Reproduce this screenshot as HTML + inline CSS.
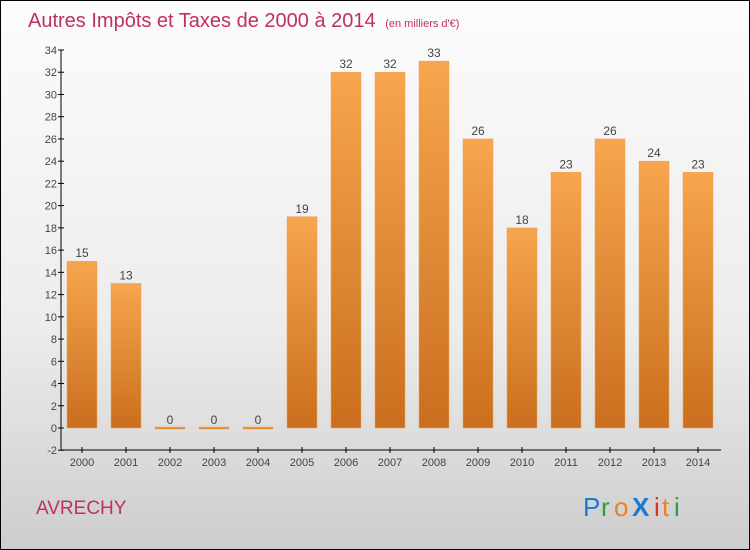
<!DOCTYPE html>
<html><head><meta charset="utf-8"><style>
body{margin:0}
svg{display:block;font-family:"Liberation Sans",sans-serif}
</style></head><body>
<svg id="c" width="750" height="550">
<defs>
<linearGradient id="bg" x1="0" y1="0" x2="0" y2="1"><stop offset="0" stop-color="#fcfcfc"/><stop offset="0.6" stop-color="#ececec"/><stop offset="1" stop-color="#cdcdcd"/></linearGradient>
<linearGradient id="bar" x1="0" y1="0" x2="0" y2="1"><stop offset="0" stop-color="#f7a54f"/><stop offset="1" stop-color="#c96f1e"/></linearGradient>
</defs>
<rect x="0.5" y="0.5" width="749" height="549" fill="url(#bg)" stroke="#000"/>
<text x="28" y="27" font-size="20" fill="#c0305f">Autres Impôts et Taxes de 2000 à 2014 <tspan font-size="11" dx="4">(en milliers d'€)</tspan></text>
<text x="36" y="514" font-size="19" fill="#c0305f">AVRECHY</text>
<g font-size="26">
<text x="583" y="516" fill="#1a7ad4">P</text><text x="601" y="516" fill="#2aa040">r</text><text x="614" y="516" fill="#f08020">o</text><text x="632" y="516" fill="#1a7ad4" font-weight="bold">X</text><text x="654" y="516" fill="#e03020">i</text><text x="662" y="516" fill="#f08020">t</text><text x="674" y="516" fill="#2aa040">i</text>
</g>
<g id="plot"></g>
</svg>
<script>
const categories=["2000","2001","2002","2003","2004","2005","2006","2007","2008","2009","2010","2011","2012","2013","2014"];
const values=[15,13,0,0,0,19,32,32,33,26,18,23,26,24,23];
const yTicks=[-2,0,2,4,6,8,10,12,14,16,18,20,22,24,26,28,30,32,34];
const NS="http://www.w3.org/2000/svg";
const g=document.getElementById('plot');
const y=v=>428-(v)*(378/34);
const x=i=>82+i*44;
function el(t,a,p){const e=document.createElementNS(NS,t);for(const k in a)e.setAttribute(k,a[k]);(p||g).appendChild(e);return e;}
const ax=el('line',{x1:61,y1:y(34),x2:61,y2:y(-2),stroke:'#000'});


const xa=el('line',{x1:61,y1:450,x2:721,y2:450,stroke:'#000'});


yTicks.forEach(v=>{
 const t=el('line',{x1:58,x2:64,y1:y(v),y2:y(v),stroke:'#000'});
 
 
 const l=el('text',{x:57,y:y(v)+4,'font-size':11,'text-anchor':'end',fill:'#444'});
 l.textContent=v;
 
 
});
categories.forEach((c,i)=>{
 const v=values[i];
 const t=el('line',{x1:x(i),x2:x(i),y1:447,y2:453,stroke:'#000'});
 
 
 const l=el('text',{x:x(i),y:466,'font-size':11,'text-anchor':'middle',fill:'#444'});
 l.textContent=c;
 
 
 const top=y(v),h=Math.max(2,y(0)-top);
 const b=el('rect',{x:x(i)-15,y:v>0?top:y(0)-1,width:30,height:h,fill:'url(#bar)',stroke:'#f0a050','stroke-width':0.5});
 
 
 const vl=el('text',{x:x(i),y:(v>0?top:y(0))-4,'font-size':12,'text-anchor':'middle',fill:'#444'});
 vl.textContent=v;
 
 
});
</script>
</body></html>
